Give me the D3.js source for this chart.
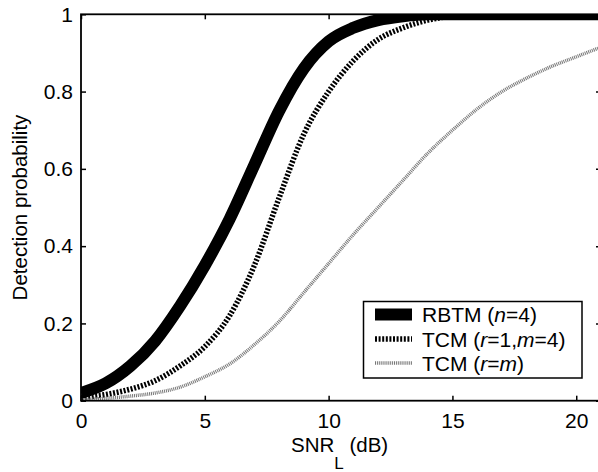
<!DOCTYPE html>
<html>
<head>
<meta charset="utf-8">
<script src="https://cdn.jsdelivr.net/npm/d3@7"></script>
<style>
	body { margin: 0; background: #fff; }
	svg { display: block; }
	.tick line { stroke: #000; stroke-width: 1.5; }
</style>
</head>
<body>
<svg id="chart" width="598" height="472" font-family="'Liberation Sans', Arial, sans-serif"></svg>
<script>
(function (d3) {
	"use strict";

	/***** Data *****/
	// SNR_L in dB
	var snr = [0, 1, 2, 3, 4, 5, 6, 7, 8, 9, 10, 11, 12, 13, 14, 15, 16, 17, 18, 19, 20, 21];

	// RBTM (n=4)
	var rbtm = [0.02, 0.045, 0.09, 0.155, 0.245, 0.35, 0.47, 0.61, 0.75, 0.86, 0.93, 0.965, 0.985, 0.995, 1, 1, 1, 1, 1, 1, 1, 1];
	// TCM (r=1, m=4)
	var tcm14 = [0.008, 0.016, 0.03, 0.052, 0.09, 0.14, 0.22, 0.35, 0.525, 0.69, 0.8, 0.88, 0.935, 0.965, 0.985, 0.995, 1, 1, 1, 1, 1, 1];
	// TCM (r=m)
	var tcmrm = [0.002, 0.006, 0.012, 0.02, 0.035, 0.062, 0.095, 0.145, 0.205, 0.28, 0.355, 0.43, 0.5, 0.57, 0.64, 0.7, 0.755, 0.8, 0.835, 0.865, 0.89, 0.915];

	var xTicks = [0, 5, 10, 15, 20];
	var yTicks = [0, 0.2, 0.4, 0.6, 0.8, 1];

	/***** Layout *****/
	var svg = d3.select("#chart");
	const plotLeft = 81, plotRight = 601, plotTop = 14.3, plotBottom = 400.7;
	const font = "'Liberation Sans', Arial, sans-serif";

	var x = d3.scaleLinear().domain([0, 21]).range([plotLeft, plotRight]);
	var y = d3.scaleLinear().domain([0, 1]).range([plotBottom, plotTop]);

	// clip for the curves
	svg.append("clipPath").attr("id", "plotclip")
		.append("rect")
		.attr("x", plotLeft).attr("y", plotTop)
		.attr("width", plotRight - plotLeft).attr("height", plotBottom - plotTop);

	/***** Axes *****/
	var fmtY = function (d) { return d === 0 || d === 1 ? String(d) : d3.format(".1f")(d); };

	// restyle what d3.axis puts on the group
	function styleAxis(g) {
		g.attr("font-family", font).attr("font-size", 21);
		g.select(".domain").remove();
		g.selectAll(".tick text").attr("fill", "#000");
	}

	svg.append("g")
		.attr("transform", "translate(0," + plotBottom + ")")
		.call(d3.axisBottom(x).tickValues(xTicks).tickSizeInner(-5).tickSizeOuter(0).tickPadding(12))
		.call(styleAxis);

	svg.append("g")
		.attr("transform", "translate(0," + plotTop + ")")
		.call(d3.axisTop(x).tickValues(xTicks).tickSizeInner(-5).tickSizeOuter(0).tickFormat(""))
		.call(styleAxis);

	svg.append("g")
		.attr("transform", "translate(" + plotLeft + ",0)")
		.call(d3.axisLeft(y).tickValues(yTicks).tickSizeInner(-5).tickSizeOuter(0).tickPadding(8).tickFormat(fmtY))
		.call(styleAxis);

	svg.append("g")
		.attr("transform", "translate(" + plotRight + ",0)")
		.call(d3.axisRight(y).tickValues(yTicks).tickSizeInner(-5).tickSizeOuter(0).tickFormat(""))
		.call(styleAxis);

	/***** Curves *****/
	var line = d3.line()
		.x(function (d) { return x(d[0]); })
		.y(function (d) { return y(d[1]); })
		.curve(d3.curveMonotoneX);

	var series = [
		{ vals: rbtm, color: "#000", width: 12, dash: null },
		{ vals: tcm14, color: "#000", width: 5.5, dash: "2,1.6" },
		{ vals: tcmrm, color: "#777", width: 3.5, dash: "1,0.9" }
	];

	var curves = svg.append("g").attr("clip-path", "url(#plotclip)");
	series.forEach(function (s) {
		curves.append("path")
			.datum(d3.zip(snr, s.vals))
			.attr("d", line)
			.attr("fill", "none")
			.attr("stroke", s.color)
			.attr("stroke-width", s.width)
			.attr("stroke-dasharray", s.dash);
	});

	// box
	svg.append("rect")
		.attr("x", plotLeft).attr("y", plotTop)
		.attr("width", plotRight - plotLeft).attr("height", plotBottom - plotTop)
		.attr("fill", "none").attr("stroke", "#000").attr("stroke-width", 1.8);

	/***** Axis labels *****/
	var xl = svg.append("text")
		.attr("x", 291).attr("y", 451.5)
		.attr("font-size", 20.5);
	xl.append("tspan").text("SNR");
	xl.append("tspan").attr("dy", 17).attr("font-size", 17).text("L");
	xl.append("tspan").attr("dy", -17).text(" (dB)");

	svg.append("text")
		.attr("transform", "translate(27," + (plotTop + plotBottom) / 2 + ") rotate(-90)")
		.attr("text-anchor", "middle")
		.attr("font-size", 20.5)
		.text("Detection probability");

	/***** Legend *****/
	var legend = svg.append("g");
	legend.append("rect")
		.attr("x", 363.5).attr("y", 301.5)
		.attr("width", 218.5).attr("height", 76.5)
		.attr("fill", "#fff").attr("stroke", "#000").attr("stroke-width", 1.5);

	var labels = [
		[["RBTM (", false], ["n", true], ["=4)", false]],
		[["TCM (", false], ["r", true], ["=1,", false], ["m", true], ["=4)", false]],
		[["TCM (", false], ["r", true], ["=", false], ["m", true], [")", false]]
	];
	var rowY = [314.5, 339, 363];

	series.forEach(function (s, i) {
		legend.append("line")
			.attr("x1", 375).attr("x2", 412)
			.attr("y1", rowY[i]).attr("y2", rowY[i])
			.attr("stroke", s.color)
			.attr("stroke-width", s.width)
			.attr("stroke-dasharray", s.dash);
		var t = legend.append("text")
			.attr("x", 422).attr("y", rowY[i] + 7.5)
			.attr("font-size", 21);
		labels[i].forEach(function (p) {
			t.append("tspan").attr("font-style", p[1] ? "italic" : null).text(p[0]);
		});
	});
})(d3);
</script>
</body>
</html>
